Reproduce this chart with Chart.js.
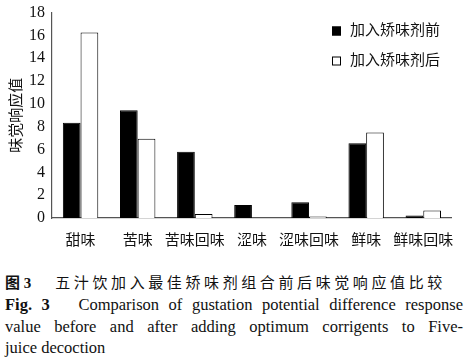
<!DOCTYPE html>
<html>
<head>
<meta charset="utf-8">
<script src="https://cdn.jsdelivr.net/npm/chart.js@4"></script>
<style>
  body { margin: 0; background: #fff; width: 468px; }
  #wrap { width: 468px; height: 266px; }
  .cap { font-family: "Liberation Serif", "Noto Sans CJK SC", serif; color: #111; padding: 0 5px; white-space: nowrap; }
  .l1 { font-size: 15px; line-height: 22px; margin-top: 6px; }
  .l1 .cn { letter-spacing: 3.6px; margin-left: 24px; }
  .en { font-size: 16.5px; line-height: 21.5px; text-align: justify; text-align-last: justify; white-space: normal; }
  .last { text-align-last: left; }
</style>
</head>
<body>
<div id="wrap"><canvas id="myChart" width="468" height="266"></canvas></div>
<div class="cap l1"><b>图 3</b><span class="cn">五汁饮加入最佳矫味剂组合前后味觉响应值比较</span></div>
<div class="cap en"><b>Fig. 3</b>&nbsp;&nbsp; Comparison of gustation potential difference response</div>
<div class="cap en">value before and after adding optimum corrigents to Five-</div>
<div class="cap en last">juice decoction</div>
<script>
const canvas = document.getElementById('myChart');
const ctx = canvas.getContext('2d');

const categories = ['甜味', '苦味', '苦味回味', '涩味', '涩味回味', '鲜味', '鲜味回味'];
const seriesNames = ['加入矫味剂前', '加入矫味剂后'];
const beforeValues = [8.35, 9.45, 5.8, 1.15, 1.38, 6.55, 0.22];
const afterValues = [16.25, 6.95, 0.35, 0, 0.14, 7.5, 0.65];
const yTicks = [0, 2, 4, 6, 8, 10, 12, 14, 16, 18];

const fontFamily = '"Liberation Serif", "Noto Sans CJK SC", serif';

// legend drawn inside the plot, top right, stacked vertically
const boxLegend = {
    id: 'boxLegend',
    afterDraw(chart) {
        const c = chart.ctx;
        c.save();
        c.font = '15px ' + fontFamily;
        c.textBaseline = 'middle';
        chart.data.datasets.forEach((ds, i) => {
            let y = 31 + i * 30;
            c.fillStyle = ds.backgroundColor;
            c.fillRect(332, y - 4.5, 9, 9);
            c.strokeStyle = '#000';
            c.lineWidth = 1;
            c.strokeRect(332.5, y - 4, 8, 8);
            c.fillStyle = '#111';
            c.fillText(ds.label, 350, y);
        });
        c.restore();
    }
};

let chart = new Chart(ctx, {
    type: 'bar',
    data: {
        labels: categories,
        datasets: [
            {
                label: seriesNames[0],
                data: beforeValues,
                backgroundColor: '#000',
                borderColor: '#000',
                borderWidth: 1
            },
            {
                label: seriesNames[1],
                data: afterValues,
                backgroundColor: '#fff',
                borderColor: '#000',
                borderWidth: 1
            }
        ]
    },
    options: {
        responsive: false,
        animation: false,
        layout: { padding: { top: 9, right: 10, left: 0, bottom: 0 } },
        categoryPercentage: 0.62,
        barPercentage: 1.0,
        plugins: {
            legend: { display: false },
            tooltip: { enabled: false }
        },
        scales: {
            x: {
                grid: { display: false, drawTicks: false },
                border: { color: '#555', width: 1.2 },
                ticks: {
                    color: '#111',
                    font: { family: fontFamily, size: 15 },
                    padding: 14,
                    maxRotation: 0,
                    autoSkip: false
                },
                afterFit(scale) { scale.height = 48; }
            },
            y: {
                min: 0,
                max: 18,
                afterBuildTicks(scale) {
                    scale.ticks = yTicks.map(v => ({ value: v }));
                },
                grid: { display: false, drawTicks: true, drawOnChartArea: false, tickLength: 4, color: '#555' },
                border: { color: '#555', width: 1.2 },
                ticks: {
                    color: '#111',
                    font: { family: fontFamily, size: 16 },
                    padding: 3
                },
                title: {
                    display: true,
                    text: '味觉响应值',
                    color: '#111',
                    font: { family: fontFamily, size: 15 },
                    padding: { top: 8, bottom: 0 }
                },
                afterFit(scale) { scale.width = 52; }
            }
        }
    },
    plugins: [boxLegend]
});
</script>
</body>
</html>
